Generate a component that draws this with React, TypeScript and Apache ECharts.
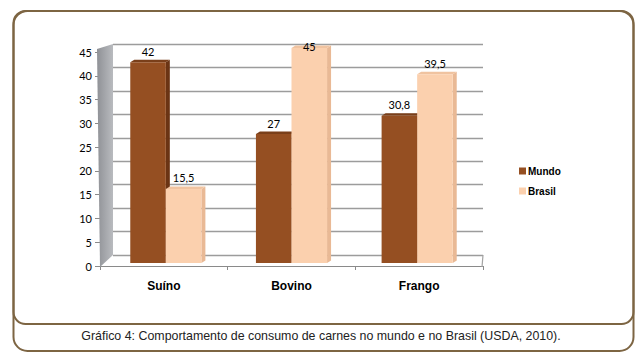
import React, { useEffect, useRef } from "react";
import * as echarts from "echarts";

const categories = ["Suíno", "Bovino", "Frango"];
const mundo = [42, 27, 30.8];
const brasil = [15.5, 45, 39.5];
const seriesNames = ["Mundo", "Brasil"];
const yMin = 0;
const yMax = 45;
const yStep = 5;
const caption = "Gráfico 4: Comportamento de consumo de carnes no mundo e no Brasil (USDA, 2010).";

const fmt = (v: number) => String(v).replace(".", ",");

const makeRender = (side: number, front: string, sideC: string, topC: string) =>
  (params: any, api: any) => {
    const i = api.value(0);
    const v = api.value(1);
    const top = api.coord([i, v]);
    const base = api.coord([i, 0]);
    const band = api.size([1, 0])[0];
    const w = band * 0.283;
    const x0 = side < 0 ? top[0] - w : top[0];
    const x1 = x0 + w;
    const yT = top[1];
    const yB = base[1];
    const dx = 4;
    const dy = 2.5;
    return {
      type: "group",
      children: [
        { type: "polygon", shape: { points: [[x1, yT], [x1 + dx, yT - dy], [x1 + dx, yB - dy], [x1, yB]] }, style: { fill: sideC } },
        { type: "polygon", shape: { points: [[x0, yT], [x0 + dx, yT - dy], [x1 + dx, yT - dy], [x1, yT]] }, style: { fill: topC } },
        { type: "rect", shape: { x: x0, y: yT, width: w, height: yB - yT }, style: { fill: front } },
        {
          type: "text",
          x: (x0 + x1) / 2,
          y: Math.max(yT - dy - 3, 51.5),
          style: { text: fmt(v), align: "center", verticalAlign: "bottom", fill: "#000", fontSize: 11, fontFamily: "Lato, 'Open Sans', sans-serif" },
        },
      ],
    };
  };

export default function App() {
  const ref = useRef<HTMLDivElement>(null);
  useEffect(() => {
    if (!ref.current) return;
    const chart = echarts.init(ref.current, null, { renderer: "svg" });
    const labelFont = "Lato, 'Open Sans', sans-serif";
    chart.setOption({
      animation: false,
      backgroundColor: "#fff",
      grid: [
        { left: 100, right: 161, top: 52, bottom: 98 },
        { left: 113, right: 161, top: 44, bottom: 109 },
        { left: 103, right: 164, top: 48, bottom: 101 },
      ],
      xAxis: [
        {
          gridIndex: 0,
          type: "category",
          data: categories,
          axisLine: { lineStyle: { color: "#8a8a8a", width: 1 } },
          axisTick: { show: true, length: 4, lineStyle: { color: "#8a8a8a" } },
          axisLabel: {
            margin: 14,
            fontFamily: "'Liberation Sans', Arial, sans-serif",
            fontWeight: "bold",
            fontSize: 12,
            color: "#000",
          },
        },
        {
          gridIndex: 1,
          type: "category",
          data: categories,
          axisLine: { show: false },
          axisTick: { show: false },
          axisLabel: { show: false },
          splitLine: { show: false },
        },
        { gridIndex: 2, type: "category", data: categories, show: false },
      ],
      yAxis: [
        {
          gridIndex: 0,
          type: "value",
          min: yMin,
          max: yMax,
          interval: yStep,
          axisLine: { show: false },
          axisTick: { show: true, length: 5, lineStyle: { color: "#8a8a8a" } },
          splitLine: { show: false },
          axisLabel: { margin: 8, fontSize: 11, fontFamily: labelFont, color: "#000" },
        },
        {
          gridIndex: 1,
          type: "value",
          min: yMin,
          max: yMax,
          interval: yStep,
          axisLine: { show: false },
          axisTick: { show: false },
          axisLabel: { show: false },
          splitLine: { show: true, lineStyle: { color: "#9c9c9c", width: 1.4 } },
        },
        { gridIndex: 2, type: "value", min: yMin, max: yMax, show: false, splitLine: { show: false } },
      ],
      legend: {
        orient: "vertical",
        left: 514,
        top: 161,
        itemWidth: 7,
        itemHeight: 7,
        itemGap: 10,
        icon: "rect",
        data: seriesNames,
        textStyle: { fontFamily: "'Liberation Sans', Arial, sans-serif", fontWeight: "bold", fontSize: 10, color: "#000", padding: [0, 0, 0, -3] },
      },
      graphic: [
        {
          type: "polygon",
          z: 1,
          shape: { points: [[97, 49], [113, 44], [113, 255], [100, 267]] },
          style: {
            fill: new echarts.graphic.LinearGradient(0, 0, 1, 0, [
              { offset: 0, color: "#8f9196" },
              { offset: 1, color: "#b9bbbf" },
            ]),
          },
        },
        { type: "line", z: 1, shape: { x1: 483, y1: 255, x2: 482, y2: 267 }, style: { stroke: "#a3a3a3", lineWidth: 1.2 } },
        { type: "rect", z: 10, shape: { x: 13.5, y: 11, width: 620, height: 340, r: 14 }, style: { fill: "none", stroke: "#7d6543", lineWidth: 2 } },
        { type: "rect", z: 10, shape: { x: 13.5, y: 11, width: 620, height: 313, r: 12 }, style: { fill: "none", stroke: "#7d6543", lineWidth: 2 } },
        {
          type: "text",
          z: 10,
          x: 321,
          y: 336,
          style: { text: caption, align: "center", verticalAlign: "middle", fontSize: 12.4, fontFamily: "'Liberation Sans', Arial, sans-serif", fill: "#222" },
        },
      ],
      series: [
        {
          name: seriesNames[0],
          type: "custom",
          xAxisIndex: 2,
          yAxisIndex: 2,
          itemStyle: { color: "#954f22" },
          encode: { x: 0, y: 1 },
          data: mundo.map((v, i) => [i, v]),
          renderItem: makeRender(-1, "#954f22", "#6b3414", "#7a3f1a"),
        },
        {
          name: seriesNames[1],
          type: "custom",
          xAxisIndex: 2,
          yAxisIndex: 2,
          itemStyle: { color: "#fbd0ae" },
          encode: { x: 0, y: 1 },
          data: brasil.map((v, i) => [i, v]),
          renderItem: makeRender(1, "#fbd0ae", "#e9b995", "#f0c3a0"),
        },
      ],
    });
    return () => chart.dispose();
  }, []);
  return <div ref={ref} style={{ position: "absolute", left: 0, top: 0, width: 644, height: 364 }} />;
}
